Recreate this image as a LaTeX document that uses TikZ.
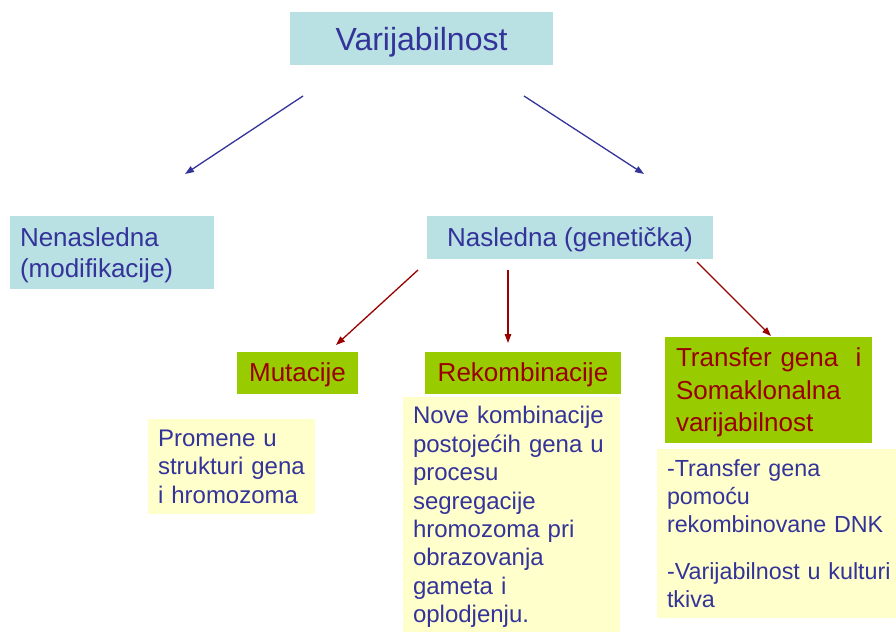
\documentclass[tikz,border=0pt]{standalone}
\usepackage{fontspec}
\setmainfont{Liberation Sans}
\usetikzlibrary{arrows.meta}
\definecolor{boxcyan}{HTML}{B9E0E3}
\definecolor{txtblue}{HTML}{333399}
\definecolor{boxgreen}{HTML}{99CC00}
\definecolor{txtred}{HTML}{990000}
\definecolor{boxyellow}{HTML}{FFFFCC}
\hbadness=10000 \hfuzz=100pt
\begin{document}
\begin{tikzpicture}[x=1pt,y=-1pt,
  cyanbox/.style={fill=boxcyan, text=txtblue, inner sep=0pt, text depth=0pt, font=\fontsize{26}{31}\selectfont},
  greenbox/.style={fill=boxgreen, text=txtred, inner sep=0pt, text depth=0pt, font=\fontsize{26}{32.5}\selectfont},
  yellowbox/.style={fill=boxyellow, text=txtblue, inner ysep=0pt, inner xsep=10pt, align=left, font=\fontsize{24}{28.4}\selectfont},
  bluearrow/.style={draw=txtblue, line width=1.3pt, -{Triangle[length=9pt,width=6.5pt]}},
  redarrow/.style={draw=txtred, line width=1.3pt, -{Triangle[length=9pt,width=6.5pt]}}
]
\useasboundingbox (0,0) rectangle (896,632);

\node[cyanbox, minimum width=263pt, minimum height=53pt, font=\fontsize{32}{38}\selectfont] (top) at (421.5,38.5) {Varijabilnost};
\node[cyanbox, minimum height=73pt, text width=184pt, inner xsep=10pt, align=left, text depth=31pt] (nen) at (112,252.5) {\mbox{Nenasledna}\\\mbox{(modifikacije)}};
\node[cyanbox, minimum width=286pt, minimum height=43pt] (nas) at (570,237.5) {Nasledna (genetička)};

\node[greenbox, minimum width=121pt, minimum height=42pt] (mut) at (297.5,372.5) {Mutacije};
\node[greenbox, minimum width=196pt, minimum height=42pt] (rek) at (523,372.5) {Rekombinacije};
\node[greenbox, minimum height=106pt, text width=185pt, inner xsep=11pt, align=left, text depth=65pt] (tra) at (768.5,390) {\mbox{Transfer gena\ \ i}\\\mbox{Somaklonalna}\\\mbox{varijabilnost}};

\node[yellowbox, minimum height=95pt, text width=147pt, text depth=56.8pt] (pro) at (231.5,466.5) {\mbox{Promene u}\\\mbox{strukturi gena}\\\mbox{i hromozoma}};
\node[yellowbox, minimum height=235pt, text width=197pt, text depth=198.8pt] (nov) at (511.5,514.5) {\mbox{Nove kombinacije}\\\mbox{postojećih gena u}\\procesu\\segregacije\\\mbox{hromozoma pri}\\obrazovanja\\\mbox{gameta i}\\oplodjenju.};
\node[yellowbox, minimum height=169pt, text width=219pt, text depth=131.6pt, font=\fontsize{23.3}{28.4}\selectfont] (trd) at (776.5,533.5) {\mbox{-Transfer gena}\\pomoću\\\mbox{rekombinovane DNK}\\[18pt]\mbox{-Varijabilnost u kulturi}\\tkiva};

\coordinate (a1s) at (303,96);
\coordinate (a1e) at (185,174);
\coordinate (a2s) at (524,96);
\coordinate (a2e) at (644,174);
\coordinate (a3s) at (418,270);
\coordinate (a3e) at (336,345);
\coordinate (a4s) at (508,270);
\coordinate (a4e) at (508,343);
\coordinate (a5s) at (697,262);
\coordinate (a5e) at (771,336);

\draw[bluearrow] (a1s) -- (a1e);
\draw[bluearrow] (a2s) -- (a2e);
\draw[redarrow] (a3s) -- (a3e);
\draw[redarrow] (a4s) -- (a4e);
\draw[redarrow] (a5s) -- (a5e);
\end{tikzpicture}
\end{document}
